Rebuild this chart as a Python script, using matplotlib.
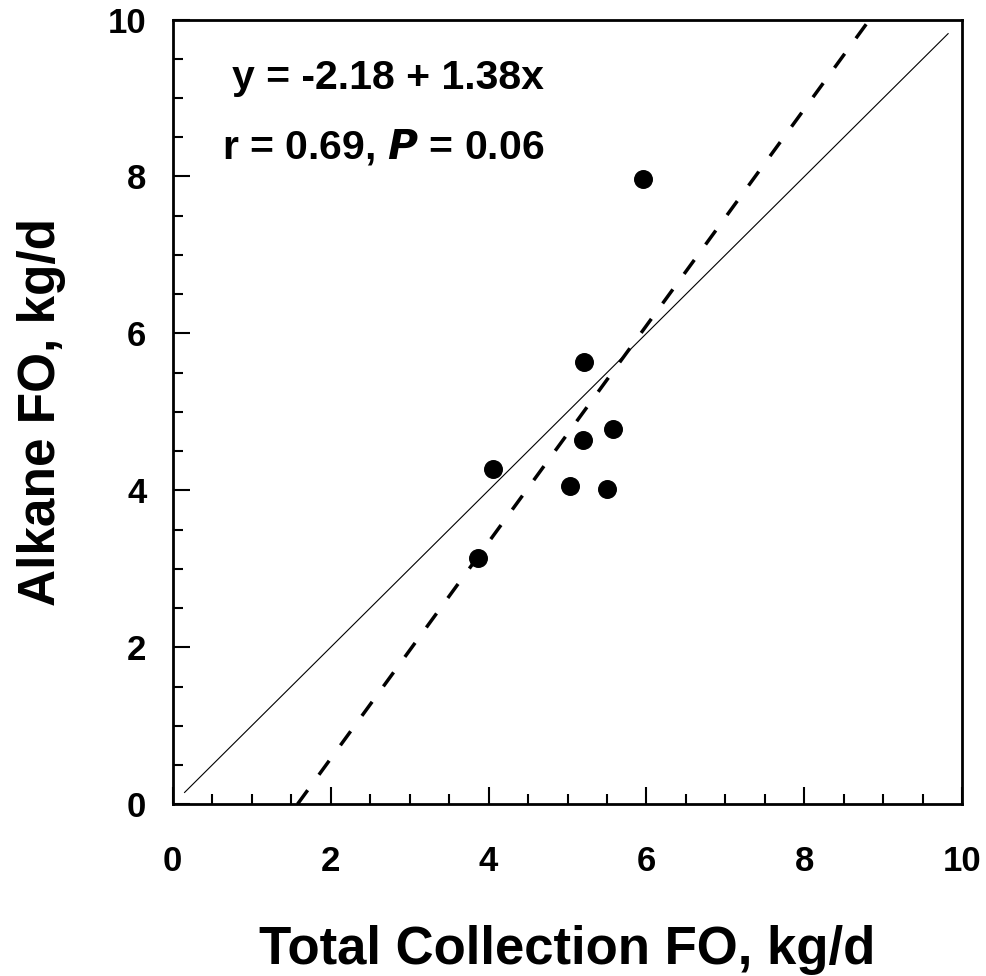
"""
Alkane FO vs total collection FO scatter with 1:1 line and regression line.
"""
import matplotlib
matplotlib.use('Agg')

import matplotlib.pyplot as plt
import numpy as np
from matplotlib.ticker import MultipleLocator

# --- Data ---
total_fo = [3.87, 4.05, 5.03, 5.21, 5.19, 5.50, 5.57, 5.96]
alkane_fo = [3.14, 4.27, 4.06, 5.64, 4.64, 4.02, 4.78, 7.97]

# regression: y = -2.18 + 1.38x
intercept = -2.18
slope = 1.38
identity_range = [0.15, 9.82]

plt.rcParams['font.family'] = ['Liberation Sans', 'DejaVu Sans']
plt.rcParams['font.weight'] = 'bold'

fig = plt.figure(figsize=(9.87, 9.76), dpi=100)
ax = fig.add_axes([0.175, 0.176, 0.800, 0.804])

# 1:1 line
ax.plot(identity_range, identity_range, color='black', lw=0.8, zorder=2)

# regression line, clipped to the box
x_reg = np.array([-intercept / slope, (10 - intercept) / slope])
ax.plot(x_reg, intercept + slope * x_reg, color='black', lw=2.5,
        dashes=(5, 5.5), zorder=2)

ax.scatter(total_fo, alkane_fo, s=160, color='black', zorder=3)

ax.text(0.075, 0.925, "y = -2.18 + 1.38x", transform=ax.transAxes,
        fontsize=29.5, fontweight='bold', va='center', ha='left')
ax.text(0.062, 0.838, r"r = 0.69, $\boldsymbol{P}$ = 0.06", transform=ax.transAxes,
        fontsize=29.5, fontweight='bold', va='center', ha='left')

ax.set_xlim(0, 10)
ax.set_ylim(0, 10)
ax.xaxis.set_major_locator(MultipleLocator(2))
ax.yaxis.set_major_locator(MultipleLocator(2))
ax.xaxis.set_minor_locator(MultipleLocator(0.5))
ax.yaxis.set_minor_locator(MultipleLocator(0.5))
ax.tick_params(which='both', direction='in', width=1.5, labelsize=25)
ax.tick_params(which='major', length=12)
ax.tick_params(which='minor', length=7)
ax.tick_params(axis='x', which='major', pad=29)
ax.tick_params(axis='y', which='major', pad=19)
for lbl in ax.get_xticklabels() + ax.get_yticklabels():
    lbl.set_fontweight('bold')
for side in ax.spines.values():
    side.set_linewidth(2)

ax.set_xlabel("Total Collection FO, kg/d", fontsize=38, fontweight='bold', labelpad=34)
ax.set_ylabel("Alkane FO, kg/d", fontsize=37, fontweight='bold', labelpad=30)

fig.savefig("out.png", dpi=100)
